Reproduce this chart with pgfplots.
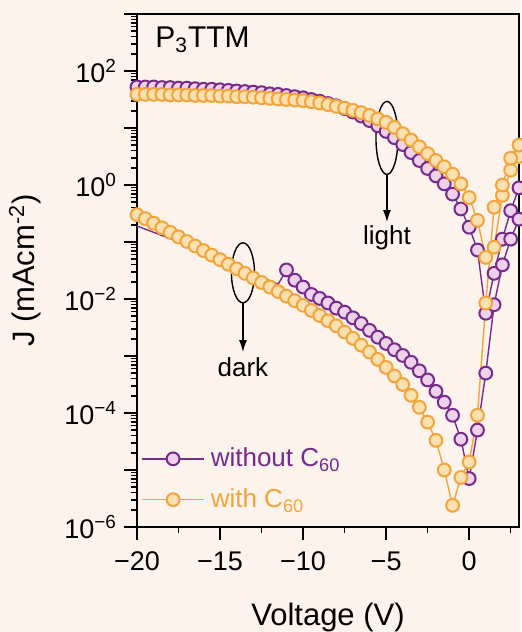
\documentclass[border=0pt]{standalone}
\usepackage{fontspec}
\setmainfont{Liberation Sans}
\usepackage{pgfplots}
\usepackage{pgfplotstable}
\pgfplotsset{compat=1.18}
\usetikzlibrary{arrows.meta}
\definecolor{bg}{RGB}{252,243,236}
\definecolor{purp}{RGB}{118,42,140}
\definecolor{purpfill}{RGB}{237,210,233}
\definecolor{orng}{RGB}{244,164,58}
\definecolor{orngfill}{RGB}{251,224,176}

% values are log10(J / mAcm^-2)
\pgfplotstableread{
V lj
-20 1.72
-19.5 1.72
-19 1.72
-18.5 1.71
-18 1.71
-17.5 1.70
-17 1.70
-16.5 1.69
-16 1.68
-15.5 1.68
-15 1.67
-14.5 1.66
-14 1.65
-13.5 1.64
-13 1.63
-12.5 1.62
-12 1.60
-11.5 1.59
-11 1.57
-10.5 1.55
-10 1.53
-9.5 1.50
-9 1.47
-8.5 1.43
-8 1.39
-7.5 1.34
-7 1.28
-6.5 1.21
-6 1.13
-5.5 1.04
-5 0.94
-4.5 0.83
-4 0.71
-3.5 0.57
-3 0.43
-2.5 0.29
-2 0.16
-1.5 0.02
-1 -0.16
-0.5 -0.42
0 -0.74
0.5 -1.14
1 -2.25
1.5 -1.55
2 -0.95
2.5 -0.45
3 -0.05
}\purplight

\pgfplotstableread{
V lj
-20 -0.72
-19 -0.83
-18 -0.94
-17 -1.05
-16 -1.17
-15 -1.29
-14 -1.44
-13 -1.56
-12 -1.68
-11.5 -1.74
-11 -1.49
}\purpdarkA

\pgfplotstableread{
V lj
-11 -1.49
-10.5 -1.67
-10 -1.79
-9.5 -1.92
-9 -1.99
-8.5 -2.07
-8 -2.16
-7.5 -2.23
-7 -2.33
-6.5 -2.43
-6 -2.55
-5.5 -2.67
-5 -2.78
-4.5 -2.89
-4 -2.99
-3.5 -3.11
-3 -3.26
-2.5 -3.42
-2 -3.62
-1.5 -3.81
-1 -4.04
-0.5 -4.46
0 -5.15
0.5 -4.30
1 -3.30
1.5 -2.10
2 -1.40
2.5 -0.95
3 -0.60
}\purpdarkB

\pgfplotstableread{
V lj
-20 1.59
-19.5 1.59
-19 1.59
-18.5 1.59
-18 1.58
-17.5 1.58
-17 1.58
-16.5 1.57
-16 1.57
-15.5 1.57
-15 1.56
-14.5 1.56
-14 1.55
-13.5 1.55
-13 1.54
-12.5 1.53
-12 1.52
-11.5 1.51
-11 1.50
-10.5 1.49
-10 1.48
-9.5 1.46
-9 1.44
-8.5 1.41
-8 1.38
-7.5 1.35
-7 1.31
-6.5 1.27
-6 1.22
-5.5 1.16
-5 1.10
-4.5 1.01
-4 0.90
-3.5 0.79
-3 0.67
-2.5 0.55
-2 0.43
-1.5 0.32
-1 0.19
-0.5 0.02
0 -0.22
0.5 -0.62
1 -1.27
1.5 -1.09
2 -0.18
2.5 0.26
3 0.50
}\orlight

\pgfplotstableread{
V lj
-20 -0.52
-19.5 -0.59
-19 -0.67
-18.5 -0.75
-18 -0.83
-17.5 -0.91
-17 -0.99
-16.5 -1.07
-16 -1.15
-15.5 -1.23
-15 -1.31
-14.5 -1.39
-14 -1.47
-13.5 -1.55
-13 -1.63
-12.5 -1.71
-12 -1.79
-11.5 -1.87
-11 -1.95
-10.5 -2.03
-10 -2.11
-9.5 -2.20
-9 -2.29
-8.5 -2.38
-8 -2.47
-7.5 -2.58
-7 -2.69
-6.5 -2.81
-6 -2.93
-5.5 -3.06
-5 -3.20
-4.5 -3.35
-4 -3.50
-3.5 -3.69
-3 -3.90
-2.5 -4.16
-2 -4.48
-1.5 -5.00
-1 -5.62
-0.5 -5.13
0 -4.86
0.5 -4.04
1 -2.07
1.5 -0.39
2 0.00
2.5 0.47
3 0.70
}\ordark

\begin{document}
\begin{tikzpicture}
\fill[bg] (0,0) rectangle (260.5pt,316pt);
\begin{axis}[
  at={(68.5pt,52.5pt)}, anchor=south west,
  scale only axis, width=191pt, height=256.5pt,
  xmin=-20, xmax=3, ymode=log, ymin=1e-6, ymax=1e3,
  xtick={-20,-15,-10,-5,0},
  xticklabels={−20,−15,−10,−5,0},
  minor xtick={-17.5,-12.5,-7.5,-2.5,2.5},
  ytick={1e-6,1e-5,1e-4,1e-3,1e-2,1e-1,1,10,100,1000},
  yticklabels={10\textsuperscript{−6},{},10\textsuperscript{−4},{},10\textsuperscript{−2},{},10\textsuperscript{0},{},10\textsuperscript{2},{}},
  minor ytick={2e-6,3e-6,4e-6,5e-6,6e-6,7e-6,8e-6,9e-6,
    2e-5,3e-5,4e-5,5e-5,6e-5,7e-5,8e-5,9e-5,
    2e-4,3e-4,4e-4,5e-4,6e-4,7e-4,8e-4,9e-4,
    2e-3,3e-3,4e-3,5e-3,6e-3,7e-3,8e-3,9e-3,
    2e-2,3e-2,4e-2,5e-2,6e-2,7e-2,8e-2,9e-2,
    0.2,0.3,0.4,0.5,0.6,0.7,0.8,0.9,
    2,3,4,5,6,7,8,9,20,30,40,50,60,70,80,90,
    200,300,400,500,600,700,800,900},
  tick align=outside, tick pos=left,
  major tick length=6.5pt, minor tick length=3pt,
  axis line style={line width=0.7pt},
  every tick/.style={black, line width=0.7pt},
  ticklabel style={font=\fontsize{13.5}{16}\selectfont},
  xticklabel style={yshift=-2.5pt},
  xlabel={Voltage (V)},
  ylabel={J (mAcm\textsuperscript{-2})},
  x label style={at={([yshift=-45pt]axis description cs:0.5,0)}, anchor=center, font=\fontsize{15.5}{18}\selectfont},
  y label style={at={([xshift=-56pt]axis description cs:0,0.5)}, anchor=center, font=\fontsize{15.5}{18}\selectfont},
  legend style={at={(axis description cs:0.0,0.0)}, anchor=south west, draw=none, fill=none,
    font=\fontsize{13}{15}\selectfont, row sep=5.5pt, inner xsep=2pt, inner ysep=6pt,
    nodes={inner xsep=3pt}},
  legend cell align=left,
  legend image code/.code={\draw[mark repeat=2,mark phase=2,#1] plot coordinates {(0pt,0pt) (15.5pt,0pt) (31pt,0pt)};},
]
\addplot[purp, line width=0.7pt, mark=*, mark size=3.2pt, mark options={fill=purpfill, draw=purp, line width=1pt}]
  table[x=V, y expr={10^(\thisrow{lj})}] {\purplight};
\addlegendentry{\textcolor{purp}{without C\textsubscript{60}}}
\addplot[purp, line width=0.7pt, forget plot] table[x=V, y expr={10^(\thisrow{lj})}] {\purpdarkA};
\addplot[purp, line width=0.7pt, mark=*, mark size=3.2pt, mark options={fill=purpfill, draw=purp, line width=1pt}, forget plot]
  table[x=V, y expr={10^(\thisrow{lj})}] {\purpdarkB};
\addplot[orng, line width=0.7pt, mark=*, mark size=3.2pt, mark options={fill=orngfill, draw=orng, line width=1pt}]
  table[x=V, y expr={10^(\thisrow{lj})}] {\orlight};
\addlegendentry{\textcolor{orng}{with C\textsubscript{60}}}
\addplot[orng, line width=0.7pt, mark=*, mark size=3.2pt, mark options={fill=orngfill, draw=orng, line width=1pt}, forget plot]
  table[x=V, y expr={10^(\thisrow{lj})}] {\ordark};

\draw[line width=0.7pt] (axis cs:-4.95,6.7) ellipse [x radius=5.5pt, y radius=18.25pt];
\draw[line width=0.7pt, -{Latex[length=6pt,width=4pt]}] ([yshift=-18.25pt]axis cs:-4.95,6.7) -- (axis cs:-4.95,0.224);
\node[font=\fontsize{13}{15}\selectfont] at (axis cs:-4.95,0.117) {light};

\draw[line width=0.7pt] (axis cs:-13.62,0.0288) ellipse [x radius=5.75pt, y radius=15pt];
\draw[line width=0.7pt, -{Latex[length=6pt,width=4pt]}] ([yshift=-15pt]axis cs:-13.62,0.0288) -- (axis cs:-13.62,1.17e-3);
\node[font=\fontsize{13}{15}\selectfont] at (axis cs:-13.62,6.4e-4) {dark};

\node[anchor=base west, inner sep=0pt, font=\fontsize{15}{18}\selectfont] at (rel axis cs:0.047,0.934) {P\textsubscript{3}TTM};
\end{axis}
\pgfresetboundingbox
\path[use as bounding box] (0,0) rectangle (260.5pt,316pt);
\end{tikzpicture}
\end{document}
